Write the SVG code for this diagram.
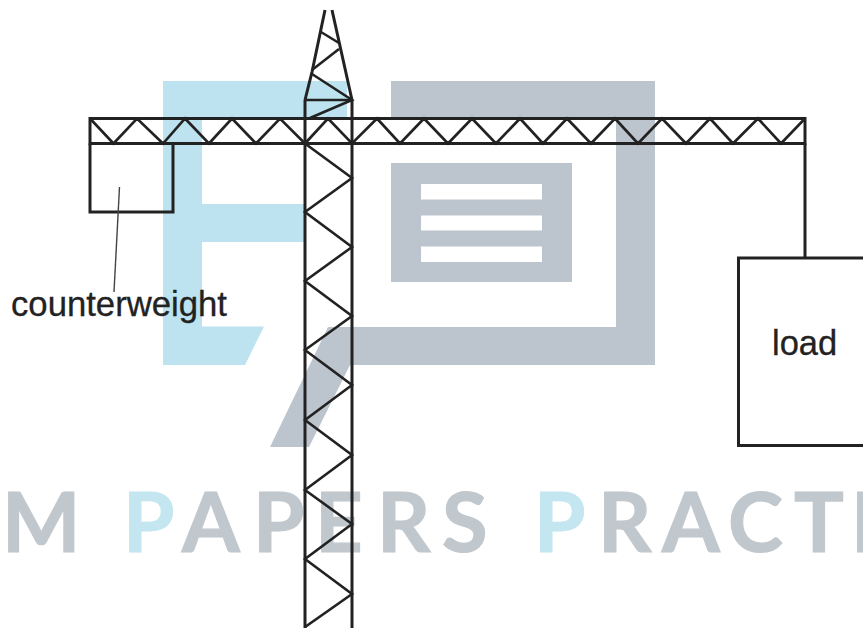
<svg xmlns="http://www.w3.org/2000/svg" width="863" height="628" viewBox="0 0 863 628">
<style>
.s{fill:none;stroke:#222;stroke-width:3;stroke-linejoin:miter}
.t{stroke-width:2.600}
.b{fill:#bce3ef}
.g{fill:#bcc5cd}
.w{fill:#fff}
.lab{font-family:"Liberation Sans",Arial,sans-serif;font-size:34.5px;fill:#222;stroke:#222;stroke-width:.3}
.wm{font-family:Lato,"Open Sans",sans-serif;font-size:83px;font-weight:700}
.wg{fill:#c0c8ce;stroke:#c0c8ce;stroke-width:1.200}
.wb{fill:#c3e6f0;stroke:#c3e6f0;stroke-width:1.200}
</style>
<rect width="863" height="628" fill="#fff"/>
<g id="watermark">
<path class="b" d="M163 81H347V118H202V204H306V242H202V326.500H264L245 365H163Z"/>
<path class="g" d="M391 81H655V365H350L309 447H270L328 327H616V118H391Z"/>
<rect class="g" x="391" y="163" width="181" height="119"/>
<rect class="w" x="421" y="184" width="121" height="15.500"/>
<rect class="w" x="421" y="215.500" width="121" height="15"/>
<rect class="w" x="421" y="246.500" width="121" height="15.500"/>
<text class="wm" y="552"><tspan class="wg" x="2">M</tspan><tspan class="wb" x="123">P</tspan><tspan class="wg" x="182">A</tspan><tspan class="wg" x="253">P</tspan><tspan class="wg" x="315">E</tspan><tspan class="wg" x="377">R</tspan><tspan class="wg" x="442">S</tspan><tspan class="wb" x="534">P</tspan><tspan class="wg" x="598">R</tspan><tspan class="wg" x="662">A</tspan><tspan class="wg" x="728">C</tspan><tspan class="wg" x="794">T</tspan><tspan class="wg" x="851">I</tspan></text>
</g>
<g id="boom">
<rect class="s" x="90" y="118.500" width="715" height="25"/>
<polyline class="s t" points="90,118.500 113.500,143.500 137,118.500 163,143.500 185,118.500 209,143.500 232,118.500 256,143.500 280,118.500 305,143.500 328,118.500 352,143.500 377,118.500 400,143.500 424,118.500 448,143.500 472,118.500 496,143.500 520,118.500 543,143.500 567,118.500 591,143.500 615,118.500 638,143.500 662,118.500 686,143.500 710,118.500 733,143.500 758,118.500 781,143.500 805,118.500"/>
</g>
<g id="mast">
<line class="s" x1="305" y1="100" x2="305" y2="628"/>
<line class="s" x1="352" y1="100" x2="352" y2="628"/>
<polyline class="s t" points="305,143.500 352,178 305,212 352,247 305,281 352,316 305,350 352,385 305,420 352,455 305,490 352,524 305,559 352,594 305,627"/>
</g>
<g id="mast-top">
<polyline class="s" points="305,100 312,72 325,10"/>
<line class="s" x1="332" y1="10" x2="352" y2="100"/>
<line class="s t" x1="305" y1="100" x2="352" y2="100"/>
<polyline class="s t" points="310,118 352,100 312,74"/>
<polyline class="s t" points="312,70 339,49"/>
<polyline class="s t" points="339,43 321,32"/>
</g>
<g id="counterweight">
<path class="s" d="M90 143.500V212H173V143.500"/>
<line x1="119.500" y1="187" x2="114" y2="292" stroke="#444" stroke-width="1.400"/>
<text class="lab" x="11" y="316" textLength="216" lengthAdjust="spacingAndGlyphs">counterweight</text>
</g>
<g id="load">
<line class="s" x1="805" y1="143.500" x2="805" y2="258"/>
<path class="s" d="M865 258H738.500V445.500H865"/>
<text class="lab" x="772" y="355">load</text>
</g>
</svg>
